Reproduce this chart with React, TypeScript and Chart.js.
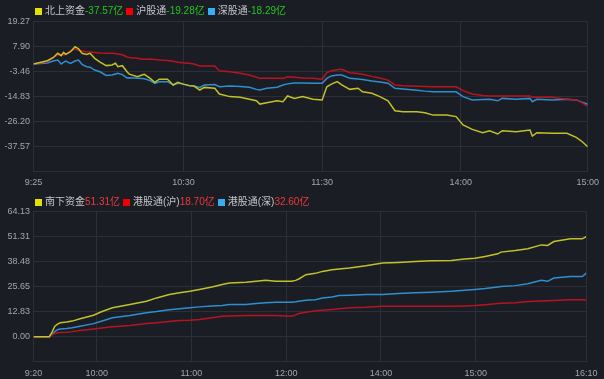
import React, { useEffect, useRef } from 'react';
import { Chart, registerables } from 'chart.js';

Chart.register(...registerables);

// ---------- Top chart (北向资金) ----------
const topTimes = [0, 6, 8.5, 10.5, 12, 13, 14, 16, 18, 19.5, 21, 23, 24.5, 26.5, 29, 31.5, 34, 35.5, 36.5, 38.5, 40.5, 41.5, 45, 47, 48, 50.5, 52.5, 54.5, 58, 60.5, 62.5, 64.5, 67.5, 69.5, 72, 74, 78.5, 80.5, 85, 89.5, 93.5, 96.5, 98, 101, 105.5, 108, 110, 113, 116.5, 121, 125, 127, 129, 131.5, 133.5, 137, 140.5, 142.5, 146.5, 150, 153.5, 156.5, 160, 166, 169.5, 173, 179, 183, 186, 190, 194.5, 197.5, 201, 203, 209, 215, 216, 218, 224.5, 231, 235, 237.5, 240];
const topNorth = [0, 1.5, 2.9, 4.9, 3.8, 5.3, 4.4, 5.6, 7.9, 6.9, 4.9, 4.4, 4.9, 2.6, 0.8, -0.7, -0.4, 0.35, -1.2, -0.74, -3.5, -4.6, -5.7, -5.0, -4.65, -6.5, -8.3, -6.9, -6.9, -9.5, -8.3, -9.0, -9.8, -10.0, -11.8, -10.6, -11.0, -13.6, -14.8, -15.1, -16.0, -16.7, -18.2, -17.6, -16.7, -17.1, -14.5, -15.6, -14.8, -16.0, -16.3, -10.3, -9.1, -8.0, -9.5, -11.5, -11.0, -12.6, -13.3, -14.8, -16.7, -21.2, -21.7, -21.7, -22.1, -23.2, -23.2, -23.9, -27.7, -29.7, -31.2, -30.3, -31.8, -30.3, -30.8, -30.0, -32.7, -31.2, -31.5, -31.5, -33.3, -35.2, -37.57];
const topSH = [0, 1.0, 3.0, 4.2, 4.4, 4.1, 4.4, 5.9, 6.85, 6.3, 5.9, 5.6, 5.5, 5.3, 5.0, 4.9, 4.9, 4.8, 4.6, 4.2, 3.2, 3.0, 2.6, 2.2, 2.2, 2.3, 2.1, 1.85, 1.6, 1.3, 0.8, 0.6, 0.35, 0.0, -0.9, -0.9, -0.9, -3.0, -3.5, -4.2, -5.0, -6.0, -6.5, -6.4, -6.4, -6.5, -5.8, -6.0, -6.3, -6.5, -6.9, -3.9, -3.0, -2.6, -2.4, -3.9, -4.3, -4.6, -5.6, -6.3, -7.3, -9.5, -9.8, -10.1, -10.2, -10.3, -10.3, -10.3, -12.1, -13.6, -14.3, -14.5, -14.5, -14.5, -14.5, -14.5, -15.1, -15.1, -15.1, -16.0, -16.3, -17.5, -19.28];
const topSZ = [0, 0.5, 1.4, 1.85, 0.0, 0.8, 1.4, 0.35, 1.4, 1.85, -0.1, -1.2, -1.4, -2.7, -3.6, -5.2, -5.0, -4.5, -4.2, -4.8, -6.3, -6.2, -6.4, -6.6, -6.7, -7.5, -8.75, -8.0, -8.0, -9.5, -8.75, -9.0, -9.9, -10.0, -10.6, -9.5, -9.3, -10.3, -10.0, -10.2, -10.5, -11.5, -11.8, -11.0, -10.5, -9.5, -9.0, -8.6, -8.6, -8.75, -8.75, -6.5, -5.4, -5.0, -5.0, -6.5, -6.8, -7.0, -7.7, -8.2, -8.7, -11.0, -11.3, -11.9, -12.3, -12.6, -12.6, -12.6, -14.8, -16.3, -16.1, -16.0, -16.7, -15.6, -16.0, -15.6, -17.1, -16.0, -16.3, -16.0, -16.3, -17.3, -18.29];
const topXTickValues = [0, 65, 125, 185, 240];
const topXTickLabels = ['9:25', '10:30', '11:30', '14:00', '15:00'];
const topYTickLabels = ['19.27', '7.90', '-3.46', '-14.83', '-26.20', '-37.57'];
const topYMin = -48.94;
const topLegendNames = ['北上资金', '沪股通', '深股通'];
const topLegendValues = ['-37.57亿', '-19.28亿', '-18.29亿'];

// ---------- Bottom chart (南向资金) ----------
const bottomTimes = [0, 10, 11.5, 13.5, 15.5, 17, 21, 24.5, 29.5, 38, 43, 50, 61, 71.5, 78, 86, 92.5, 99, 105, 113, 119.5, 124, 134.5, 141, 147, 153.5, 163.5, 166, 168, 172.5, 178.5, 183, 189, 193.5, 200, 210.5, 221, 231, 241.5, 252, 264.5, 273, 279.5, 286, 294, 296, 305, 313, 321.5, 325.5, 329.5, 340, 347.5, 350];
const bottomSouth = [0, 0, 2.0, 5.4, 6.6, 7.1, 7.5, 8.0, 9.2, 11.0, 12.8, 14.8, 16.5, 18.2, 19.9, 21.6, 22.6, 23.3, 24.2, 25.5, 26.8, 27.6, 27.9, 28.4, 28.9, 28.4, 28.4, 28.9, 29.6, 31.8, 32.5, 33.5, 34.4, 34.7, 35.2, 36.4, 37.8, 38.1, 38.6, 39.0, 39.1, 39.8, 40.2, 41.2, 42.5, 43.4, 44.2, 45.1, 47.1, 46.8, 48.8, 50.2, 50.2, 51.31];
const bottomHKSH = [0, 0, 0.8, 1.7, 2.0, 2.1, 2.3, 2.6, 3.2, 3.9, 4.4, 5.1, 5.8, 6.8, 7.2, 7.8, 8.3, 8.5, 8.8, 9.7, 10.5, 10.6, 10.9, 10.9, 10.9, 10.9, 10.5, 11.2, 11.9, 12.5, 13.3, 13.6, 14.0, 14.3, 14.8, 15.1, 15.6, 15.6, 15.6, 15.6, 15.6, 15.8, 16.0, 16.4, 17.0, 17.1, 17.4, 18.0, 18.3, 18.5, 18.6, 19.0, 19.0, 18.70];
const bottomHKSZ = [0, 0, 1.0, 2.6, 3.7, 4.0, 4.2, 4.6, 5.4, 6.7, 7.9, 9.7, 10.9, 12.3, 12.9, 13.8, 14.3, 14.8, 15.3, 15.7, 16.0, 16.5, 16.5, 17.0, 17.4, 17.7, 17.7, 17.9, 18.2, 18.7, 19.0, 19.9, 20.4, 21.1, 21.3, 21.6, 21.6, 22.1, 22.5, 22.8, 23.3, 23.8, 24.2, 24.7, 25.5, 25.7, 26.2, 27.2, 28.9, 28.4, 30.1, 30.9, 30.9, 32.60];
const bottomXTickValues = [0, 40, 100, 160, 220, 280, 350];
const bottomXTickLabels = ['9:20', '10:00', '11:00', '12:00', '14:00', '15:00', '16:10'];
const bottomYTickLabels = ['64.13', '51.31', '38.48', '25.65', '12.83', '0.00'];
const bottomYMin = -12.83;
const bottomLegendNames = ['南下资金', '港股通(沪)', '港股通(深)'];
const bottomLegendValues = ['51.31亿', '18.70亿', '32.60亿'];

// ---------- styles ----------
const FONT = 'Arial, "Liberation Sans", "Noto Sans CJK SC", sans-serif';
const BG = '#1b1d24';
const GRID = '#2c2f37';
const TICK = '#a3a6ad';
const LINE_COLORS = ['#c2c12a', '#b8141f', '#2e8fd0'];
const SWATCHES = ['#e2e200', '#f00000', '#35aef5'];

type ChartProps = {
  times: number[];
  series: number[][];
  xTickValues: number[];
  xTickLabels: string[];
  yTickLabels: string[];
  yMin: number;
  height: number;
  labelPad: number;
};

function LineChart({ times, series, xTickValues, xTickLabels, yTickLabels, yMin, height, labelPad }: ChartProps) {
  const ref = useRef<HTMLCanvasElement | null>(null);
  useEffect(() => {
    if (!ref.current) return;
    const yVals = yTickLabels.map((s) => parseFloat(s));
    const yMax = Math.max(...yVals);
    const yTicks = [yMin, ...yVals.slice().sort((a, b) => a - b)];
    const labelFor = (v: number) => {
      const i = yVals.findIndex((t) => Math.abs(t - v) < 1e-6);
      return i >= 0 ? yTickLabels[i] : '';
    };
    const chart = new Chart(ref.current, {
      type: 'line',
      data: {
        datasets: series.map((vals, k) => ({
          data: times.map((t, i) => ({ x: t, y: vals[i] })),
          borderColor: LINE_COLORS[k],
          borderWidth: 1.5,
          pointRadius: 0,
          tension: 0,
          fill: false,
        })),
      },
      options: {
        animation: false,
        responsive: false,
        maintainAspectRatio: false,
        layout: { padding: { top: 21.7, right: 15.7, left: 0, bottom: 0 } },
        plugins: { legend: { display: false }, tooltip: { enabled: false } },
        scales: {
          x: {
            type: 'linear',
            min: 0,
            max: xTickValues[xTickValues.length - 1],
            afterBuildTicks: (axis: any) => {
              axis.ticks = xTickValues.map((v) => ({ value: v }));
            },
            afterFit: (axis: any) => {
              axis.height = height - 171.7;
            },
            ticks: {
              autoSkip: false,
              maxRotation: 0,
              minRotation: 0,
              padding: labelPad,
              color: TICK,
              font: { size: 9, family: FONT },
              callback: (v: any) => {
                const i = xTickValues.indexOf(Number(v));
                return i >= 0 ? xTickLabels[i] : '';
              },
            },
            grid: { color: GRID, drawTicks: false, lineWidth: 1 },
            border: { color: GRID },
          },
          y: {
            type: 'linear',
            min: yMin,
            max: yMax,
            afterBuildTicks: (axis: any) => {
              axis.ticks = yTicks.map((v) => ({ value: v }));
            },
            afterFit: (axis: any) => {
              axis.width = 33.5;
            },
            ticks: {
              autoSkip: false,
              padding: 3.5,
              color: TICK,
              font: { size: 9, family: FONT },
              callback: (v: any) => labelFor(Number(v)),
            },
            grid: { color: GRID, drawTicks: false, lineWidth: 1 },
            border: { color: GRID },
          },
        },
      },
    } as any);
    return () => chart.destroy();
  }, []);
  return <canvas ref={ref} width={604} height={height} style={{ display: 'block', width: 604, height }} />;
}

function Legend({ names, values, valueColor, top }: { names: string[]; values: string[]; valueColor: string; top: number }) {
  return (
    <div
      style={{
        position: 'absolute',
        left: 35,
        top,
        display: 'flex',
        alignItems: 'center',
        fontFamily: FONT,
        fontSize: 10,
        lineHeight: '12px',
        whiteSpace: 'nowrap',
      }}
    >
      {names.map((n, i) => (
        <span key={n} style={{ display: 'flex', alignItems: 'center', marginRight: 3 }}>
          <span style={{ display: 'inline-block', width: 7, height: 7, background: SWATCHES[i], marginRight: 3 }} />
          <span style={{ color: '#c4c6ca' }}>{n}</span>
          <span style={{ color: valueColor }}>{values[i]}</span>
        </span>
      ))}
    </div>
  );
}

export default function App() {
  return (
    <div style={{ position: 'fixed', left: 0, top: 0, width: 604, height: 379, background: BG, overflow: 'hidden' }}>
      <div style={{ position: 'absolute', left: 0, top: 0, width: 604, height: 190 }}>
        <LineChart
          times={topTimes}
          series={[topNorth, topSH, topSZ]}
          xTickValues={topXTickValues}
          xTickLabels={topXTickLabels}
          yTickLabels={topYTickLabels}
          yMin={topYMin}
          height={190}
          labelPad={5}
        />
      </div>
      <div style={{ position: 'absolute', left: 0, top: 190, width: 604, height: 189 }}>
        <LineChart
          times={bottomTimes}
          series={[bottomSouth, bottomHKSH, bottomHKSZ]}
          xTickValues={bottomXTickValues}
          xTickLabels={bottomXTickLabels}
          yTickLabels={bottomYTickLabels}
          yMin={bottomYMin}
          height={189}
          labelPad={6.5}
        />
      </div>
      <Legend names={topLegendNames} values={topLegendValues} valueColor="#22c322" top={5} />
      <Legend names={bottomLegendNames} values={bottomLegendValues} valueColor="#f0383c" top={196} />
    </div>
  );
}
